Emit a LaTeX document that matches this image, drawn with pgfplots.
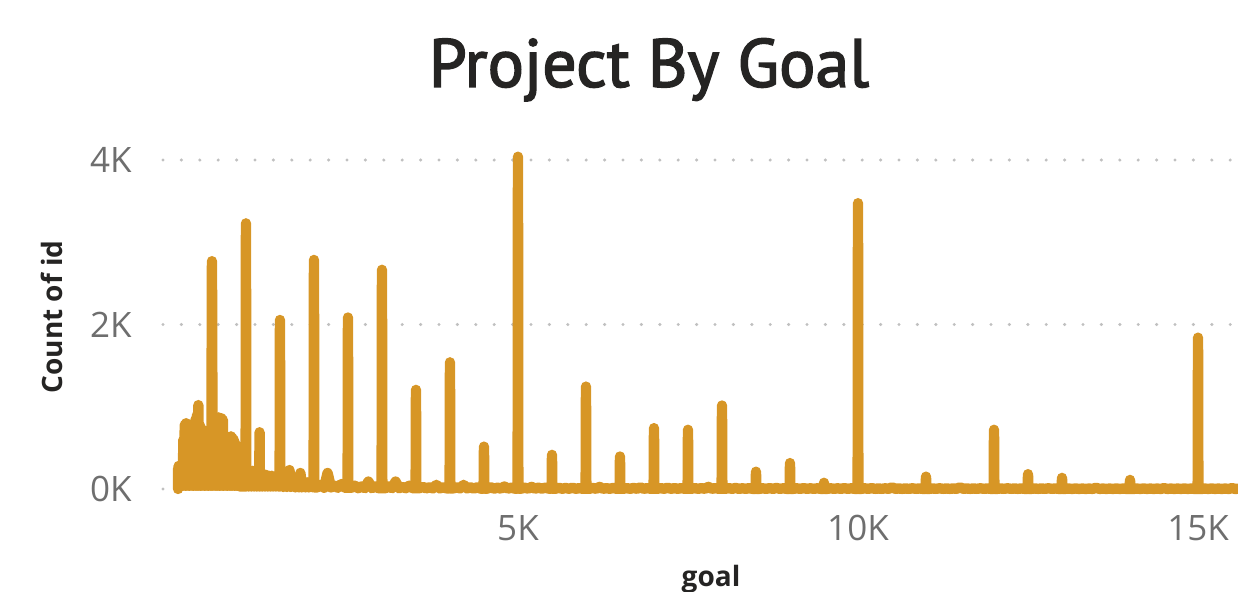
\documentclass[border=0pt]{standalone}
\usepackage{pgfplots}
\pgfplotsset{compat=1.18}
\usepackage{fontspec}
\setmainfont{Open Sans}
\newfontfamily\titlefont{PT Sans}
% slightly heavier title: fill and stroke the glyphs
\newcommand{\medium}[1]{\special{pdf:literal direct 2 Tr 0.75 w}#1\special{pdf:literal direct 0 Tr}}

\definecolor{goalline}{RGB}{215,150,38}
\definecolor{ticktext}{RGB}{110,110,110}
\definecolor{labeltext}{RGB}{37,36,35}
\definecolor{gridgray}{RGB}{192,192,192}

\begin{document}
\begin{tikzpicture}
\useasboundingbox (0pt,0pt) rectangle (619pt,296pt);

\node[anchor=base, font=\titlefont\fontsize{34}{40}\selectfont, text=labeltext]
  at (324.5pt,252.6pt) {\medium{Project By Goal}};
\node[anchor=center, rotate=90, font=\bfseries\fontsize{14}{16}\selectfont, text=labeltext]
  at (26pt,137.5pt) {Count of id};
\node[anchor=base, font=\bfseries\fontsize{14}{16}\selectfont, text=labeltext]
  at (355.5pt,2.5pt) {goal};

\begin{axis}[
    at={(81.5pt,51.5pt)}, anchor=south west,
    scale only axis,
    width=537.5pt, height=168.6pt,
    xmin=-220, xmax=15588,
    ymin=0, ymax=4100,
    clip=false,
    axis line style={draw=none},
    tick style={draw=none},
    scaled x ticks=false, scaled y ticks=false,
    xtick={5000,10000,15000},
    xticklabels={5K,10K,15K},
    ytick={0,2000,4000},
    yticklabels={0K,2K,4K},
    ticklabel style={font=\fontsize{17.5}{20}\selectfont, text=ticktext, inner sep=0pt},
    xticklabel style={anchor=north, yshift=-13pt},
    yticklabel style={anchor=east, xshift=-15.5pt},
    ymajorgrids=true,
    grid style={gridgray, line width=1.7pt, line cap=round, dash pattern=on 0pt off 9.2pt},
]
\addplot[color=goalline, line width=5.2pt, line join=round, line cap=round]
  coordinates {
  (1,0)(3,250)(6,60)(10,280)(14,40)(20,260)(30,40)(40,280)(50,40)(60,300)(70,40)
  (80,600)(90,40)(100,780)(110,40)(120,800)(130,40)(140,760)(150,40)(160,740)(170,40)
  (180,760)(190,40)(200,760)(210,40)(220,740)(230,40)(240,760)(250,40)(260,850)(270,40)
  (280,900)(290,40)(300,1020)(310,40)(320,780)(330,40)(340,740)(350,40)(360,720)(370,40)
  (380,700)(390,40)(400,680)(410,40)(420,690)(430,40)(440,680)(450,40)(460,660)(470,40)
  (480,640)(490,40)(500,2770)(510,40)(520,760)(530,40)(540,800)(550,40)(560,840)(570,40)
  (580,860)(590,40)(600,870)(610,40)(620,860)(630,40)(640,860)(650,40)(660,840)(670,40)
  (680,640)(690,40)(700,520)(710,40)(720,500)(730,40)(740,560)(750,40)(760,620)(770,40)
  (780,640)(790,40)(800,620)(810,40)(820,600)(830,40)(840,560)(850,40)(860,450)(870,40)
  (880,330)(890,40)(900,270)(910,30)(920,250)(930,30)(940,240)(950,30)(960,230)(970,30)
  (980,220)(990,30)(995,30)(1000,3230)(1005,30)
  (1025,220)(1040,30)(1060,210)(1080,30)(1100,220)(1120,30)(1140,200)(1160,30)(1180,180)
  (1195,30)(1200,690)(1205,30)(1220,190)(1240,30)(1260,180)(1280,30)(1300,170)(1320,30)
  (1340,160)(1360,30)(1380,160)(1400,30)(1420,150)(1440,30)(1460,140)(1480,30)(1495,30)
  (1500,2055)(1505,30)(1525,120)(1550,25)(1575,110)(1600,25)(1640,230)(1660,25)(1700,100)
  (1725,20)(1750,90)(1775,20)(1800,195)(1825,20)(1850,80)(1875,20)(1900,80)(1925,20)
  (1950,70)(1995,20)(2000,2785)(2005,20)
  (2050,20)(2100,50)(2150,15)(2200,195)(2250,20)(2300,40)(2350,15)(2400,60)(2450,15)
  (2495,15)(2500,2085)(2505,15)(2550,15)(2600,40)(2650,10)(2700,30)(2750,10)(2800,90)
  (2850,10)(2900,30)(2950,10)(2995,10)(3000,2665)(3005,10)(3050,10)(3100,30)(3150,10)
  (3200,90)(3250,10)(3300,25)(3350,10)(3400,40)(3450,10)(3495,10)(3500,1205)(3505,10)
  (3550,10)(3600,25)(3650,8)(3700,20)(3750,8)(3800,50)(3850,8)(3900,20)(3950,8)
  (3995,8)(4000,1540)(4005,8)(4050,8)(4100,20)(4150,8)(4200,50)(4250,8)(4300,20)
  (4350,5)(4400,20)(4450,5)(4495,5)(4500,515)(4505,5)(4550,5)(4600,20)(4650,5)
  (4700,15)(4750,5)(4800,30)(4850,5)(4900,15)(4950,5)(4995,5)(5000,4040)(5005,5)
  (5050,5)(5100,15)(5150,5)(5200,25)(5250,5)(5300,15)(5350,5)(5400,15)(5450,5)
  (5495,5)(5500,415)(5505,5)(5550,3)(5600,15)(5650,3)(5700,12)(5750,3)(5800,15)
  (5850,3)(5900,10)(5950,3)(5995,3)(6000,1245)(6005,3)(6050,3)(6100,12)(6150,3)
  (6200,25)(6250,3)(6300,10)(6350,3)(6400,12)(6450,3)(6495,3)(6500,395)(6505,3)
  (6550,3)(6600,10)(6650,3)(6700,12)(6750,3)(6800,20)(6850,3)(6900,10)(6950,3)
  (6995,3)(7000,740)(7005,3)(7050,3)(7100,10)(7150,3)(7200,15)(7250,3)(7300,10)
  (7350,3)(7400,10)(7450,3)(7495,3)(7500,720)(7505,3)(7550,3)(7600,10)(7650,3)
  (7700,10)(7750,3)(7800,25)(7850,3)(7900,10)(7950,3)(7995,3)(8000,1015)(8005,3)
  (8050,3)(8100,10)(8150,2)(8200,12)(8250,2)(8300,8)(8350,2)(8400,10)(8450,2)
  (8495,2)(8500,210)(8505,2)(8550,2)(8600,8)(8650,2)(8700,10)(8750,2)(8800,12)
  (8850,2)(8900,8)(8950,2)(8995,2)(9000,315)(9005,2)(9050,2)(9100,8)(9150,2)
  (9200,10)(9250,2)(9300,8)(9350,2)(9400,8)(9450,2)(9495,2)(9500,75)(9505,2)
  (9550,2)(9600,8)(9650,2)(9700,8)(9750,2)(9800,10)(9850,2)(9900,8)(9950,2)
  (9995,2)(10000,3475)(10005,2)(10050,2)(10100,8)(10150,2)(10200,10)(10250,2)
  (10300,6)(10350,2)(10400,8)(10450,2)(10500,20)(10550,2)(10600,6)(10650,2)
  (10700,6)(10750,2)(10800,8)(10850,2)(10900,6)(10950,2)(10995,2)(11000,150)
  (11005,2)(11050,2)(11100,6)(11150,2)(11200,8)(11250,2)(11300,6)(11350,2)
  (11400,6)(11450,2)(11500,20)(11550,2)(11600,6)(11650,2)(11700,6)(11750,2)
  (11800,8)(11850,2)(11900,6)(11950,2)(11995,2)(12000,720)(12005,2)(12050,2)
  (12100,6)(12150,2)(12200,8)(12250,2)(12300,6)(12350,2)(12400,6)(12450,2)
  (12495,2)(12500,180)(12505,2)(12550,2)(12600,6)(12650,2)(12700,6)(12750,2)
  (12800,8)(12850,2)(12900,6)(12950,2)(12995,2)(13000,135)(13005,2)(13050,2)
  (13100,5)(13150,1)(13200,6)(13250,1)(13300,5)(13350,1)(13400,5)(13450,1)
  (13500,15)(13550,1)(13600,5)(13650,1)(13700,5)(13750,1)(13800,6)(13850,1)
  (13900,5)(13950,1)(13995,1)(14000,110)(14005,1)(14050,1)(14100,5)(14150,1)
  (14200,6)(14250,1)(14300,5)(14350,1)(14400,5)(14450,1)(14500,10)(14550,1)
  (14600,5)(14650,1)(14700,5)(14750,1)(14800,6)(14850,1)(14900,5)(14950,1)
  (14995,1)(15000,1840)(15005,1)(15050,1)(15100,5)(15150,1)(15200,6)(15250,1)
  (15300,5)(15350,1)(15400,5)(15450,1)(15500,10)(15550,1)(15600,4)
  };
\end{axis}
\end{tikzpicture}
\end{document}
